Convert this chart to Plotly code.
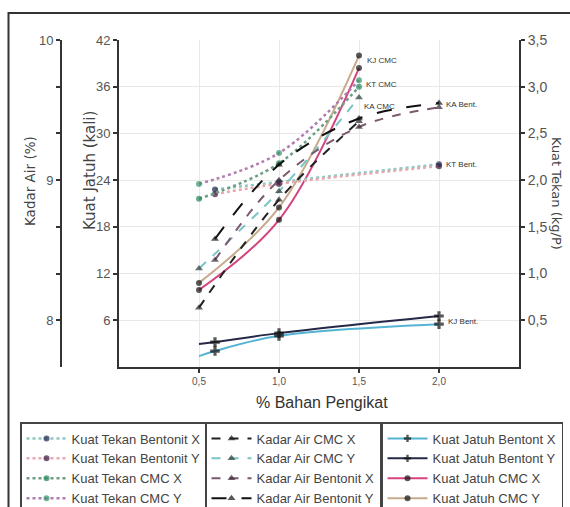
import plotly.graph_objects as go

W, H = 570, 507

# ---- data -------------------------------------------------------------
# Kuat Tekan (kg/P), right axis
kt_bent_x_pos = [0.6, 1.0, 2.0]
kt_bent_x_val = [1.90, 1.98, 2.17]
kt_bent_y_pos = [0.6, 1.0, 2.0]
kt_bent_y_val = [1.85, 1.96, 2.15]
kt_cmc_x_pos = [0.5, 1.0, 1.5]
kt_cmc_x_val = [1.80, 2.18, 3.00]
kt_cmc_y_pos = [0.5, 1.0, 1.5]
kt_cmc_y_val = [1.96, 2.29, 3.07]

# Kadar Air (%), outer left axis
ka_cmc_x_pos = [0.5, 1.0, 1.5]
ka_cmc_x_val = [8.09, 8.86, 9.42]
ka_cmc_y_pos = [0.5, 1.0, 1.5]
ka_cmc_y_val = [8.37, 8.92, 9.59]
ka_bent_x_pos = [0.6, 1.0, 1.5, 2.0]
ka_bent_x_val = [8.43, 9.00, 9.38, 9.52]
ka_bent_y_pos = [0.6, 1.0, 1.5, 2.0]
ka_bent_y_val = [8.58, 9.11, 9.44, 9.55]

# Kuat Jatuh (kali), inner left axis
kj_bent_x_pos = [0.5, 0.6, 1.0, 2.0]
kj_bent_x_val = [1.4, 2.05, 4.0, 5.5]
kj_bent_y_pos = [0.5, 0.6, 1.0, 2.0]
kj_bent_y_val = [2.95, 3.2, 4.35, 6.55]
kj_cmc_x_pos = [0.5, 1.0, 1.5]
kj_cmc_x_val = [9.9, 18.9, 38.4]
kj_cmc_y_pos = [0.5, 1.0, 1.5]
kj_cmc_y_val = [10.8, 20.5, 40.0]

x_ticks = [0.5, 1.0, 1.5, 2.0]
x_ticktext = ["0,5", "1,0", "1,5", "2,0"]
kj_ticks = [6, 12, 18, 24, 30, 36, 42]
kt_ticks = [0.5, 1.0, 1.5, 2.0, 2.5, 3.0, 3.5]
kt_ticktext = ["0,5", "1,0", "1,5", "2,0", "2,5", "3,0", "3,5"]
ka_ticks = [8, 8 + 1/3, 8 + 2/3, 9, 9 + 1/3, 9 + 2/3, 10]
ka_ticktext = ["8", "", "", "9", "", "", "10"]

# ---- layout geometry (pixels) ----------------------------------------
PX_L, PX_R = 119, 519          # plot area left / right
PX_T, PX_B = 40, 367           # plot area top / bottom
ph = PX_B - PX_T


def py(pix):
    """pixel row -> paper y"""
    return (PX_B - pix) / ph


def px(pix):
    return pix / W


FONT = "Liberation Sans, Arial, sans-serif"
TITLE_FONT = "DejaVu Sans, Verdana, sans-serif"
AXC = "#333333"

fig = go.Figure()


def add(name, xs, ys, axis, legend, color, dash, width, msym, mcol, msize,
        skip_first=False):
    sizes = [msize] * len(xs)
    if skip_first:
        sizes[0] = 0
    fig.add_trace(go.Scatter(
        x=xs, y=ys, name=name, yaxis=axis, legend=legend,
        mode="lines+markers",
        line=dict(color=color, dash=dash, width=width, shape="spline"),
        marker=dict(symbol=msym, color=mcol, size=sizes,
                    line=dict(width=0)),
    ))


# Kuat Tekan (dotted)
add("Kuat Tekan Bentonit X", kt_bent_x_pos, kt_bent_x_val, "y2", "legend",
    "#8cc8c0", "dot", 2.5, "circle", "#1c2450", 6)
add("Kuat Tekan Bentonit Y", kt_bent_y_pos, kt_bent_y_val, "y2", "legend",
    "#e8a8b0", "dot", 2.5, "circle", "#3a1840", 6)
add("Kuat Tekan CMC X", kt_cmc_x_pos, kt_cmc_x_val, "y2", "legend",
    "#6e9e84", "dot", 2.5, "circle", "#24885a", 6)
add("Kuat Tekan CMC Y", kt_cmc_y_pos, kt_cmc_y_val, "y2", "legend",
    "#b07cb0", "dot", 2.5, "circle", "#34956a", 6)

# Kadar Air (dashed)
add("Kadar Air CMC X", ka_cmc_x_pos, ka_cmc_x_val, "y3", "legend2",
    "#222222", "dash", 2, "triangle-up", "#222222", 7)
add("Kadar Air CMC Y", ka_cmc_y_pos, ka_cmc_y_val, "y3", "legend2",
    "#7cc4c4", "dash", 2, "triangle-up", "#2a3a3a", 7)
add("Kadar Air Bentonit X", ka_bent_x_pos, ka_bent_x_val, "y3", "legend2",
    "#7a5a6e", "dash", 2, "triangle-up", "#3a2a34", 7)
add("Kadar Air Bentonit Y", ka_bent_y_pos, ka_bent_y_val, "y3", "legend2",
    "#111111", "longdash", 2, "triangle-up", "#111111", 7)

# Kuat Jatuh (solid)
add("Kuat Jatuh Bentont X", kj_bent_x_pos, kj_bent_x_val, "y", "legend3",
    "#55b4d4", "solid", 2, "cross", "#111111", 8, skip_first=True)
add("Kuat Jatuh Bentont Y", kj_bent_y_pos, kj_bent_y_val, "y", "legend3",
    "#262848", "solid", 2, "cross", "#111111", 8, skip_first=True)
add("Kuat Jatuh CMC X", kj_cmc_x_pos, kj_cmc_x_val, "y", "legend3",
    "#d4447c", "solid", 2, "circle", "#111111", 6)
add("Kuat Jatuh CMC Y", kj_cmc_y_pos, kj_cmc_y_val, "y", "legend3",
    "#c8aa8c", "solid", 2, "circle", "#111111", 6)

# ---- end-of-line labels ---------------------------------------------
end_labels = [
    ("KJ CMC", kj_cmc_y_pos[-1], kj_cmc_y_val[-1], "y", 6, -5),
    ("KT CMC", kt_cmc_y_pos[-1], kt_cmc_y_val[-1], "y2", 5, -4),
    ("KA CMC", ka_cmc_y_pos[-1], ka_cmc_y_val[-1], "y3", 3, -9),
    ("KA Bent.", ka_bent_y_pos[-1], ka_bent_y_val[-1], "y3", 5, -1),
    ("KT Bent.", kt_bent_x_pos[-1], kt_bent_x_val[-1], "y2", 5, 0),
    ("KJ Bent.", kj_bent_y_pos[-1], kj_bent_y_val[-1], "y", 7, -5),
]
annotations = []
for text, xv, yv, yref, dx, dy in end_labels:
    annotations.append(dict(
        text=text, x=xv, y=yv, xref="x", yref=yref, showarrow=False,
        xanchor="left", yanchor="middle", xshift=dx, yshift=dy,
        font=dict(family="Liberation Sans Narrow, Arial Narrow, Arial", size=8,
                  color="#333333")))

# axis titles
annotations += [
    dict(text="Kadar Air (%)", x=px(30), y=py(181), xref="paper",
         yref="paper", textangle=-90, showarrow=False,
         xanchor="center", yanchor="middle",
         font=dict(family=TITLE_FONT, size=13.5, color="#444444")),
    dict(text="Kuat Jatuh (kali)", x=px(90), y=py(171), xref="paper",
         yref="paper", textangle=-90, showarrow=False,
         xanchor="center", yanchor="middle",
         font=dict(family=TITLE_FONT, size=15, color="#444444")),
    dict(text="Kuat Tekan (kg/P)", x=px(557), y=py(193), xref="paper",
         yref="paper", textangle=90, showarrow=False,
         xanchor="center", yanchor="middle",
         font=dict(family=TITLE_FONT, size=13, color="#444444")),
    dict(text="% Bahan Pengikat", x=px(322), y=py(402), xref="paper",
         yref="paper", showarrow=False, xanchor="center", yanchor="middle",
         font=dict(family=FONT, size=16, color="#333333")),
]

tick_font = dict(family=FONT, size=13, color="#555555")

legend_common = dict(
    bgcolor="white", bordercolor="#444444", borderwidth=1.5,
    font=dict(family=FONT, size=13, color="#444444"),
    xanchor="left", yanchor="top", yref="paper", xref="paper",
    itemwidth=40, traceorder="normal", tracegroupgap=0,
    itemclick=False,
)

fig.update_layout(
    width=W, height=H,
    margin=dict(l=0, r=0, t=PX_T, b=H - PX_B, autoexpand=False),
    paper_bgcolor="white", plot_bgcolor="white",
    font=dict(family=FONT),
    showlegend=True,
    legend=dict(x=px(20), y=py(422), **legend_common),
    legend2=dict(x=px(205), y=py(422), **legend_common),
    legend3=dict(x=px(381), y=py(422), **legend_common),
    xaxis=dict(
        domain=[px(PX_L), px(PX_R)], range=[0, 2.5],
        tickvals=x_ticks, ticktext=x_ticktext,
        showgrid=True, gridcolor="#e8e8e8", gridwidth=1,
        showline=True, linecolor=AXC, linewidth=2,
        ticks="outside", ticklen=4, tickcolor=AXC, tickwidth=1.5,
        tickfont=dict(family=FONT, size=10, color="#555555"),
        zeroline=False, fixedrange=True,
    ),
    yaxis=dict(
        range=[0, 42], tickvals=kj_ticks, anchor="x",
        showgrid=True, gridcolor="#e8e8e8", gridwidth=1,
        showline=True, linecolor=AXC, linewidth=2,
        ticks="outside", ticklen=4, tickcolor=AXC, tickwidth=1.5,
        tickfont=tick_font, zeroline=False, fixedrange=True,
    ),
    yaxis2=dict(
        range=[0, 3.5], tickvals=kt_ticks, ticktext=kt_ticktext,
        overlaying="y", side="right", anchor="x",
        showgrid=False, showline=True, linecolor=AXC, linewidth=2,
        ticks="outside", ticklen=4, tickcolor=AXC, tickwidth=1.5,
        tickfont=dict(family=FONT, size=14, color="#555555"),
        zeroline=False, fixedrange=True,
    ),
    yaxis3=dict(
        range=[7 + 2/3, 10], tickvals=ka_ticks, ticktext=ka_ticktext,
        overlaying="y", side="left", anchor="free", position=px(61),
        showgrid=False, showline=True, linecolor=AXC, linewidth=2,
        ticks="outside", ticklen=4, tickcolor=AXC, tickwidth=1.5,
        tickfont=tick_font, zeroline=False, fixedrange=True,
    ),
    annotations=annotations,
    shapes=[dict(type="rect", xref="paper", yref="paper",
                 x0=px(8.5), x1=1.05, y0=-0.6, y1=py(13),
                 line=dict(color="#333333", width=2), layer="below")],
)

fig.write_html("out.html")
